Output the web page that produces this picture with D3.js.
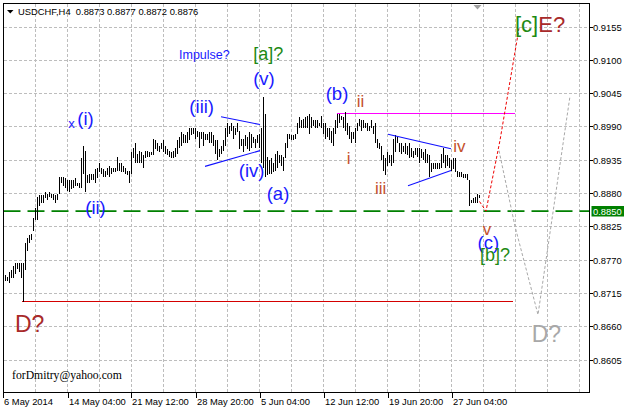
<!DOCTYPE html>
<html><head><meta charset="utf-8">
<script src="https://cdn.jsdelivr.net/npm/d3@7"></script>
<style>html,body{margin:0;padding:0;background:#fff;} svg{display:block;}</style>
</head><body>
<script>
// ---------------- DATA ----------------
const symbolTitle = "USDCHF,H4";
const lastOHLC = ["0.8873", "0.8877", "0.8872", "0.8876"];

// H4 bar highs / lows (bar index 0 .. 237)
const highs = [
  .8744,.8742,.8749,.8752,.8760,.8764,.8765,.8764,.8764,.8764,
  .8797,.8805,.8810,.8813,.8838,.8856,.8873,.8876,.8876,.8876,
  .8881,.8879,.8881,.8879,.8879,.8876,.8879,.8906,.8906,.8906,
  .8904,.8901,.8901,.8901,.8901,.8904,.8897,.8896,.8937,.8958,
  .8950,.8909,.8912,.8912,.8912,.8920,.8922,.8929,.8922,.8920,
  .8917,.8922,.8925,.8922,.8922,.8922,.8939,.8930,.8929,.8925,
  .8922,.8917,.8917,.8947,.8955,.8963,.8945,.8950,.8947,.8942,
  .8950,.8950,.8947,.8947,.8970,.8967,.8962,.8958,
  .8963,.8967,.8958,.8953,.8950,.8947,.8950,.8955,.8967,.8972,
  .8980,.8978,.8975,.8980,.8987,.8988,.8987,.8987,.8983,.8980,
  .8980,.8980,.8978,.8978,.8980,.8980,.8975,.8967,.8967,.8953,
  .8958,.8967,.8987,.8995,.8991,.8995,.8991,.8987,.8995,.8983,
  .8970,.8970,.8975,.8972,.8980,.8978,.8972,.8970,.8975,.8978,
  .8988,.9038,.9011,.8939,.8934,.8937,.8929,.8945,.8950,.8942,
  .8942,.8939,.8962,.8978,.8978,.8975,.8975,.8978,.8996,.9005,
  .9000,.9003,.9005,.9008,.9011,.9005,.9000,.9000,.9000,.8996,
  .9008,.8995,
  .8995,.8988,.8987,.8983,.8988,.9000,.9011,.9011,.9008,.9005,
  .9013,.8996,.8991,.8980,.8980,.8987,.8996,.9003,.9000,.9000,
  .8996,.8995,.8991,.9000,.8991,.8995,.8970,.8963,.8958,.8942,
  .8937,.8947,.8942,.8942,.8970,.8975,.8972,.8962,.8962,.8958,
  .8962,.8958,.8963,.8955,.8950,.8955,.8955,.8955,.8953,.8947,
  .8953,.8945,.8942,.8929,.8930,.8929,.8929,.8930,.8945,.8955,
  .8942,.8942,.8937,.8934,.8937,.8937,.8917,.8914,.8914,.8912,
  .8912,.8912,.8901,.8868,.8871,.8873,.8879,.8877
];
const lows = [
  .8734,.8735,.8731,.8740,.8739,.8747,.8755,.8749,.8740,.8700,
  .8752,.8785,.8798,.8802,.8818,.8835,.8835,.8859,.8864,.8863,
  .8871,.8868,.8873,.8871,.8868,.8864,.8868,.8879,.8896,.8892,
  .8889,.8884,.8881,.8887,.8889,.8892,.8892,.8889,.8889,.8912,
  .8881,.8896,.8897,.8901,.8901,.8897,.8904,.8914,.8912,.8906,
  .8906,.8909,.8906,.8912,.8914,.8914,.8917,.8917,.8914,.8914,
  .8912,.8909,.8896,.8912,.8937,.8929,.8929,.8930,.8930,.8922,
  .8937,.8939,.8939,.8942,.8942,.8953,.8950,.8947,
  .8953,.8947,.8945,.8942,.8939,.8937,.8937,.8939,.8945,.8955,
  .8958,.8962,.8963,.8962,.8967,.8975,.8978,.8970,.8972,.8955,
  .8970,.8958,.8967,.8967,.8963,.8962,.8958,.8945,.8934,.8939,
  .8945,.8950,.8958,.8972,.8978,.8983,.8970,.8975,.8980,.8953,
  .8958,.8947,.8958,.8953,.8950,.8955,.8962,.8955,.8962,.8955,
  .8930,.8922,.8906,.8909,.8912,.8912,.8914,.8917,.8922,.8929,
  .8925,.8917,.8937,.8955,.8970,.8967,.8967,.8970,.8978,.8988,
  .8987,.8987,.8988,.8988,.8978,.8988,.8991,.8988,.8988,.8991,
  .8987,.8978,
  .8970,.8972,.8967,.8963,.8958,.8978,.8987,.8996,.9000,.8988,
  .8983,.8975,.8970,.8963,.8970,.8963,.8983,.8991,.8983,.8988,
  .8987,.8983,.8983,.8987,.8978,.8962,.8955,.8953,.8934,.8917,
  .8909,.8925,.8930,.8925,.8929,.8947,.8962,.8947,.8945,.8947,
  .8945,.8942,.8937,.8939,.8937,.8942,.8939,.8930,.8937,.8934,
  .8930,.8929,.8906,.8914,.8920,.8920,.8920,.8920,.8922,.8930,
  .8922,.8925,.8922,.8917,.8920,.8914,.8906,.8906,.8906,.8904,
  .8904,.8901,.8859,.8863,.8863,.8864,.8864,.8872
];

const priceTicks = [0.9155, 0.9100, 0.9045, 0.8990, 0.8935, 0.8880, 0.8825, 0.8770, 0.8715, 0.8660, 0.8605];
const timeTickIdx = [-1.25, 31, 63, 95, 127, 159, 191, 223];
const timeTickLabels = ["6 May 2014", "14 May 04:00", "21 May 12:00", "28 May 20:00", "5 Jun 04:00", "12 Jun 12:00", "19 Jun 20:00", "27 Jun 04:00"];

const supportPrice = 0.8850;
const supportLabel = "0.8850";
const magentaLevel = [[165.75, 0.9011], [254.75, 0.9011]];
const redLevel = [[8.25, 0.8701], [253.75, 0.8701]];
const triangle1 = [[[107.75, 0.9006], [127.25, 0.8993]], [[99.75, 0.8924], [127.25, 0.8950]]];
const triangle2 = [[[191.25, 0.8977], [222.75, 0.8953]], [[201.25, 0.8892], [222.75, 0.8917]]];
const redProjection = [[237, 0.8866], [240.25, 0.8850], [247.25, 0.8967], [256.75, 0.9152]];
const grayProjection = [[246.75, 0.8950], [254.75, 0.8825], [266.25, 0.8679], [282.25, 0.9040]];

const waveLabels = [
  {t: "x",     i: 31.4,   p: 0.8988, k: "blue",  s: 13,   a: "start"},
  {t: "(i)",   i: 40,     p: 0.8993, k: "blue",  s: 18.5, a: "middle"},
  {t: "(ii)",  i: 45,     p: 0.8846, k: "blue",  s: 18.5, a: "middle"},
  {t: "(iii)", i: 98.1,   p: 0.9012, k: "blue",  s: 18.5, a: "middle"},
  {t: "(iv)",  i: 123.1,  p: 0.8907, k: "blue",  s: 18.5, a: "middle"},
  {t: "(v)",   i: 129.25, p: 0.9059, k: "blue",  s: 18.5, a: "middle"},
  {t: "(a)",   i: 136.25, p: 0.8869, k: "blue",  s: 18.5, a: "middle"},
  {t: "(b)",   i: 165.75, p: 0.9034, k: "blue",  s: 18.5, a: "middle"},
  {t: "(c)",   i: 241.4,  p: 0.8787, k: "blue",  s: 18.5, a: "middle"},
  {t: "Impulse?", i: 86.75, p: 0.9101, k: "blue", s: 12.5, a: "start"},
  {t: "[a]?",  i: 123.9,  p: 0.9100, k: "green", s: 18,   a: "start"},
  {t: "[b]?",  i: 237.25, p: 0.8767, k: "green", s: 18,   a: "start"},
  {t: "i",     i: 170.6,  p: 0.8928, k: "brown", s: 17,   a: "start"},
  {t: "ii",    i: 175.6,  p: 0.9022, k: "brown", s: 17,   a: "start"},
  {t: "iii",   i: 184.75, p: 0.8879, k: "brown", s: 17,   a: "start"},
  {t: "iv",    i: 223.9,  p: 0.8947, k: "brown", s: 17,   a: "start"},
  {t: "v",     i: 238.6,  p: 0.8810, k: "brown", s: 17,   a: "start"},
  {t: "D?",    i: 4.75,   p: 0.8651, k: "dred",  s: 23,   a: "start"},
  {t: "D?",    i: 263.1,  p: 0.8634, k: "gray",  s: 23,   a: "start"}
];
const cLabel = {i: 254.75, p: 0.9146, parts: [["[c]", "green"], ["E?", "dred"]]};
const watermark = "forDmitry@yahoo.com";

// ---------------- DRAW ----------------
const colors = {blue: "#1a1aff", green: "#1e8a14", brown: "#c4502c", dred: "#a82a2a", gray: "#a8a8a8"};
const W = 624, H = 410;
const frame = {l: 3.5, t: 3.5, r: 589.5, b: 392.5};
const FONT = "'Liberation Sans', Arial, sans-serif";

const x = d3.scaleLinear().domain([0, 237]).range([5.5, 479.5]);
const y = d3.scaleLinear().domain([0.8605, 0.9155]).range([359.5, 26.5]);

const svg = d3.select("body").append("svg").attr("width", W).attr("height", H)
  .style("font-family", FONT);
svg.append("rect").attr("width", W).attr("height", H).attr("fill", "#fff");

const clip = svg.append("defs").append("clipPath").attr("id", "plot")
  .append("rect").attr("x", frame.l).attr("y", frame.t)
  .attr("width", frame.r - frame.l).attr("height", frame.b - frame.t);

// grid
const grid = svg.append("g").attr("stroke", "#bdbdbd").attr("stroke-dasharray", "3,2")
  .attr("shape-rendering", "crispEdges");
grid.selectAll(".gv").data(d3.range(15, 288, 16)).join("line")
  .attr("x1", d => x(d)).attr("x2", d => x(d)).attr("y1", frame.t).attr("y2", frame.b);
grid.selectAll(".gh").data(priceTicks).join("line")
  .attr("x1", frame.l).attr("x2", frame.r).attr("y1", d => Math.round(y(d)) + 0.5).attr("y2", d => Math.round(y(d)) + 0.5);

const plot = svg.append("g").attr("clip-path", "url(#plot)");

// support level (green dashed)
plot.append("line").attr("x1", frame.l).attr("x2", frame.r)
  .attr("y1", y(supportPrice)).attr("y2", y(supportPrice))
  .attr("stroke", "#008000").attr("stroke-width", 1.6).attr("stroke-dasharray", "17,7");

// horizontal levels
const lineGen = d3.line().x(d => x(d[0])).y(d => y(d[1]));
plot.append("path").attr("d", lineGen(magentaLevel)).attr("stroke", "#ff00ff").attr("fill", "none")
  .attr("shape-rendering", "crispEdges");
plot.append("path").attr("d", lineGen(redLevel)).attr("stroke", "#d40000").attr("fill", "none")
  .attr("shape-rendering", "crispEdges");

// bars
plot.append("g").attr("stroke", "#000").attr("shape-rendering", "crispEdges")
  .selectAll("line").data(highs).join("line")
  .attr("x1", (d, i) => x(i)).attr("x2", (d, i) => x(i))
  .attr("y1", d => y(d))
  .attr("y2", (d, i) => Math.max(y(lows[i]), y(d) + 1));

// triangles
[triangle1, triangle2].forEach(tri => tri.forEach(seg => {
  plot.append("path").attr("d", lineGen(seg)).attr("stroke", "#1010ff")
    .attr("stroke-width", 1.1).attr("fill", "none");
}));

// projections
plot.append("path").attr("d", lineGen(grayProjection)).attr("stroke", "#a8a8a8")
  .attr("fill", "none").attr("stroke-dasharray", "3,2");
plot.append("path").attr("d", lineGen(redProjection)).attr("stroke", "#ee0000")
  .attr("fill", "none").attr("stroke-dasharray", "3,2");

// wave labels
svg.append("g").selectAll("text").data(waveLabels).join("text")
  .attr("x", d => x(d.i)).attr("y", d => y(d.p))
  .attr("text-anchor", d => d.a).attr("font-size", d => d.s)
  .attr("fill", d => colors[d.k]).text(d => d.t);
const ct = svg.append("text").attr("x", x(cLabel.i)).attr("y", y(cLabel.p)).attr("font-size", 22);
cLabel.parts.forEach(p => ct.append("tspan").attr("fill", colors[p[1]]).text(p[0]));

// watermark
svg.append("text").attr("x", 12).attr("y", 379).attr("font-family", "'Liberation Serif', 'Times New Roman', serif")
  .attr("font-size", 11.7).attr("fill", "#000").text(watermark);

// frame
svg.append("rect").attr("x", frame.l).attr("y", frame.t).attr("width", frame.r - frame.l)
  .attr("height", frame.b - frame.t).attr("fill", "none").attr("stroke", "#000")
  .attr("shape-rendering", "crispEdges");

// chart shift marker
svg.append("path").attr("d", "M473.5,5 L481.5,5 L477.5,9.5 Z").attr("fill", "#a0a0a0");

// header
svg.append("path").attr("d", "M7,10 L13.5,10 L10.25,13.5 Z").attr("fill", "#000");
svg.append("text").attr("x", 18).attr("y", 15).attr("font-size", 9.4).style("white-space", "pre")
  .attr("fill", "#000").text(symbolTitle + "  " + lastOHLC.join(" "));

// price axis
const pa = svg.append("g").attr("font-size", 9.4);
pa.selectAll("line").data(priceTicks).join("line")
  .attr("x1", frame.r).attr("x2", frame.r + 3)
  .attr("y1", d => Math.round(y(d)) + 0.5).attr("y2", d => Math.round(y(d)) + 0.5)
  .attr("stroke", "#000").attr("shape-rendering", "crispEdges");
pa.selectAll("text").data(priceTicks).join("text")
  .attr("x", 593).attr("y", d => Math.round(y(d)) + 3.5).attr("fill", "#000")
  .text(d => d.toFixed(4));

// support price label box
pa.append("rect").attr("x", 591.5).attr("y", Math.round(y(supportPrice)) - 5).attr("width", 33).attr("height", 10.5)
  .attr("fill", "#008000");
pa.append("text").attr("x", 593).attr("y", Math.round(y(supportPrice)) + 3.5).attr("fill", "#fff").text(supportLabel);

// time axis
const ta = svg.append("g").attr("font-size", 9.4);
ta.selectAll("line").data(timeTickIdx).join("line")
  .attr("x1", d => Math.round(x(d)) + 0.5).attr("x2", d => Math.round(x(d)) + 0.5)
  .attr("y1", frame.b).attr("y2", frame.b + 5).attr("stroke", "#000").attr("shape-rendering", "crispEdges");
ta.selectAll("text").data(timeTickIdx).join("text")
  .attr("x", d => Math.round(x(d)) + 1).attr("y", 404.5).attr("fill", "#000")
  .text((d, i) => timeTickLabels[i]);
</script>
</body></html>
